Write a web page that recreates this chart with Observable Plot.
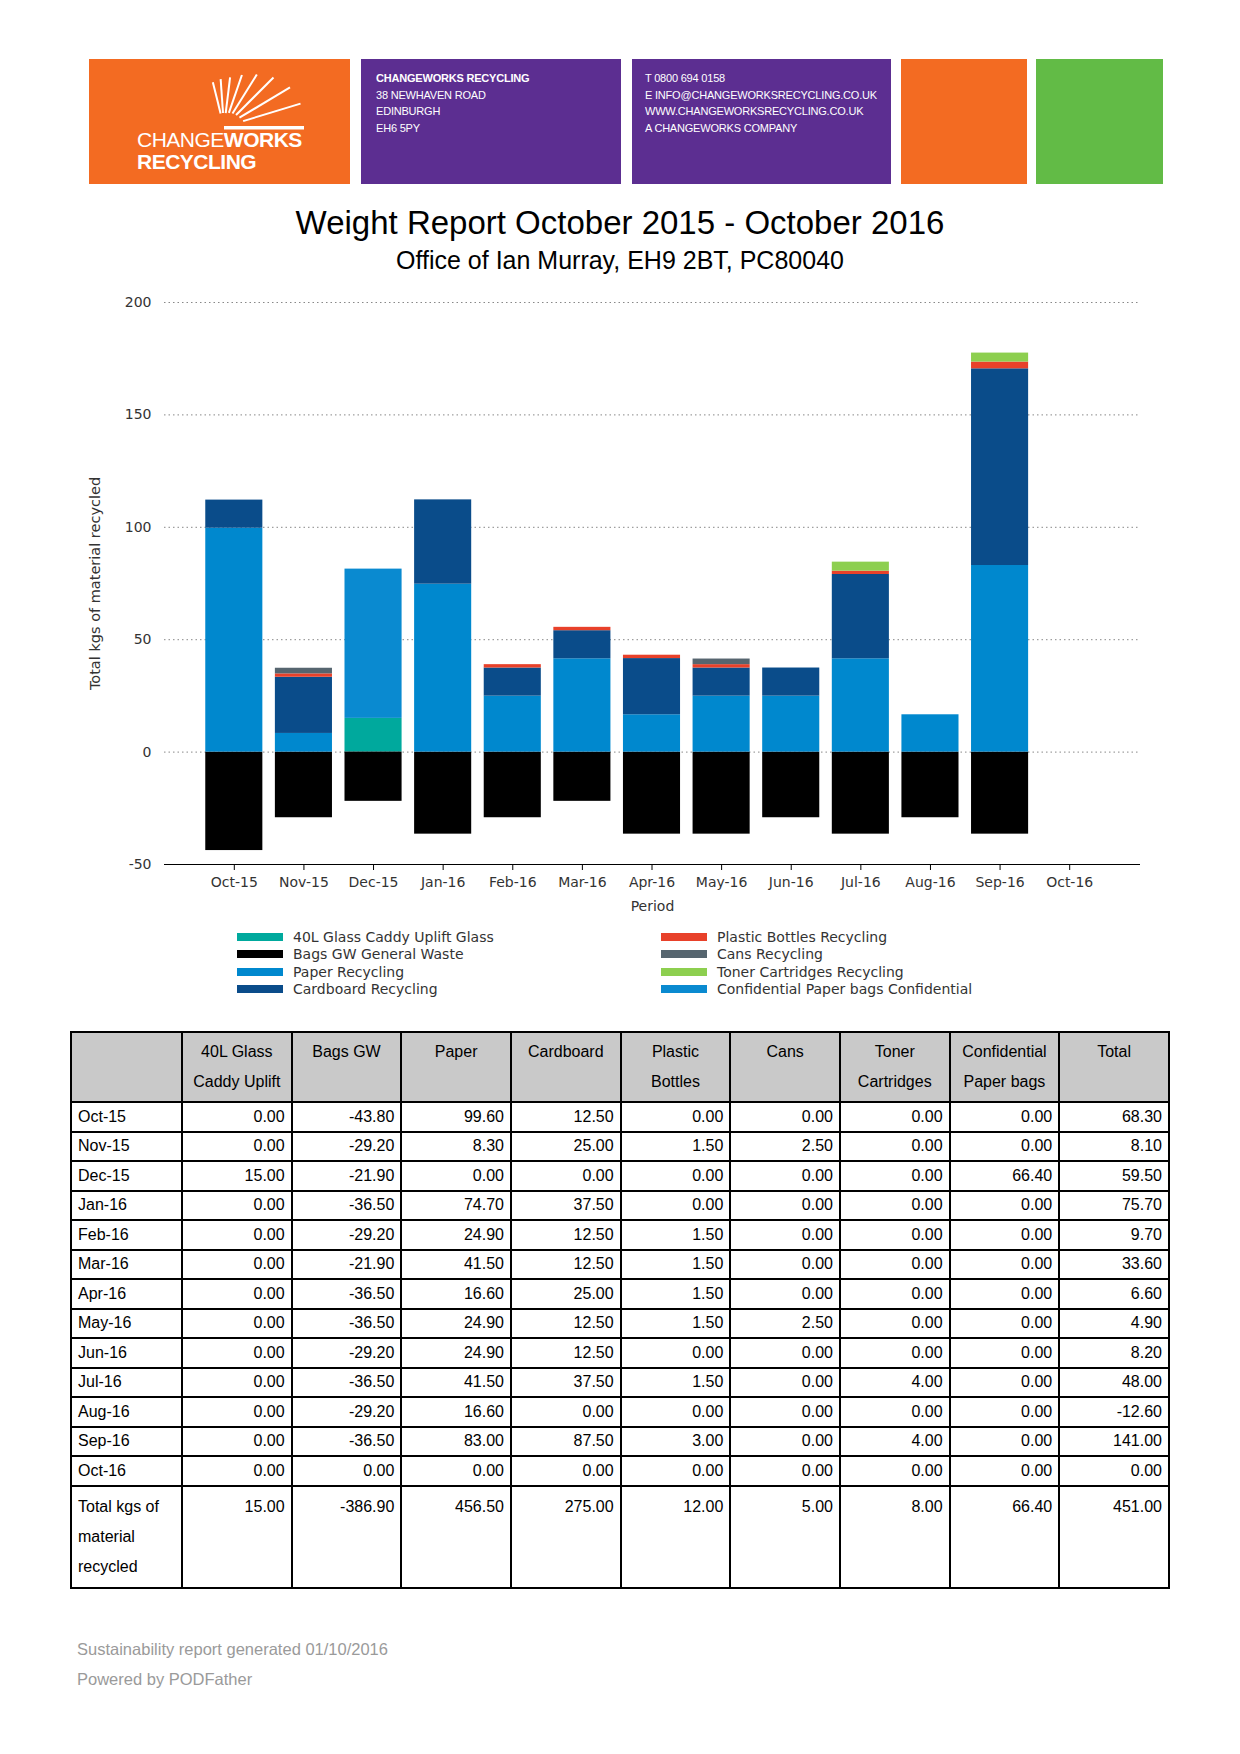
<!DOCTYPE html>
<html><head><meta charset="utf-8">
<script src="https://cdn.jsdelivr.net/npm/d3@7"></script>
<script src="https://cdn.jsdelivr.net/npm/@observablehq/plot@0.6"></script>
<style>
body{margin:0;width:1240px;height:1754px;position:relative;background:#fff;font-family:"Liberation Sans",Arial,sans-serif;overflow:hidden}
.abs{position:absolute}
.box{position:absolute;top:59px;height:125px}
.htxt{position:absolute;color:#fff;font-size:11px;line-height:16.5px;font-family:"Liberation Sans",Arial,sans-serif;letter-spacing:-0.2px}
#title{position:absolute;left:0;width:1240px;text-align:center;top:204px;font-size:33px;color:#000}
#subtitle{position:absolute;left:0;width:1240px;text-align:center;top:246px;font-size:25px;color:#000}
#chart{position:absolute;left:0;top:280px}
.leg{position:absolute;font-family:"DejaVu Sans",sans-serif;font-size:14px;color:#333;white-space:nowrap;line-height:17.4px}
.leg .sw{display:inline-block;width:46px;height:8px;vertical-align:middle;margin-right:10px;position:relative;top:-1px}
table{position:absolute;left:70px;top:1031px;border-collapse:collapse;width:1100px;table-layout:fixed;font-size:16px;color:#000}
td,th{border:2px solid #000;padding:0}
th{background:#c9c9c9;font-weight:normal;vertical-align:top;text-align:center;line-height:30px;padding-top:4px;height:64px}
td{text-align:right;padding-right:6px;height:27.5px;line-height:20px}
td.lab{text-align:left;padding-left:6px;padding-right:0}
tr.tot td{vertical-align:top;line-height:30px;padding-top:5px;height:95px}
.foot{position:absolute;left:77px;font-size:16.5px;color:#9a9a9a}
</style></head><body>

<div class="box" style="left:89px;width:261px;background:#f36b22">
  <svg width="261" height="125" id="rays"></svg>
  <div class="abs" style="left:48px;top:70px;color:#fff;font-size:21px;line-height:22px;letter-spacing:-0.5px">CHANGE<b>WORKS</b><br><b>RECYCLING</b></div>
</div>
<div class="box" style="left:361px;width:260px;background:#5c2e91">
  <div class="htxt" style="left:15px;top:11px"><b>CHANGEWORKS RECYCLING</b><br>38 NEWHAVEN ROAD<br>EDINBURGH<br>EH6 5PY</div>
</div>
<div class="box" style="left:632px;width:259px;background:#5c2e91">
  <div class="htxt" style="left:13px;top:11px">T 0800 694 0158<br>E INFO@CHANGEWORKSRECYCLING.CO.UK<br>WWW.CHANGEWORKSRECYCLING.CO.UK<br>A CHANGEWORKS COMPANY</div>
</div>
<div class="box" style="left:901px;width:126px;background:#f36b22"></div>
<div class="box" style="left:1036px;width:127px;background:#62bb46"></div>

<div id="title">Weight Report October 2015 - October 2016</div>
<div id="subtitle">Office of Ian Murray, EH9 2BT, PC80040</div>
<div id="chart"></div>
<div id="legend"></div>
<table id="tbl"></table>
<div class="foot" style="top:1640px">Sustainability report generated 01/10/2016</div>
<div class="foot" style="top:1670px">Powered by PODFather</div>

<script>
const months = ["Oct-15","Nov-15","Dec-15","Jan-16","Feb-16","Mar-16","Apr-16","May-16","Jun-16","Jul-16","Aug-16","Sep-16","Oct-16"];
const seriesNames = ["40L Glass Caddy Uplift Glass","Bags GW General Waste","Paper Recycling","Cardboard Recycling","Plastic Bottles Recycling","Cans Recycling","Toner Cartridges Recycling","Confidential Paper bags Confidential"];
const seriesColors = ["#00a99d","#000000","#0088ce","#0a4c8a","#e8412a","#56656f","#8dcf4f","#0a8ad0"];
const glass        = [0,0,15,0,0,0,0,0,0,0,0,0,0];
const bagsGW       = [-43.8,-29.2,-21.9,-36.5,-29.2,-21.9,-36.5,-36.5,-29.2,-36.5,-29.2,-36.5,0];
const paper        = [99.6,8.3,0,74.7,24.9,41.5,16.6,24.9,24.9,41.5,16.6,83,0];
const cardboard    = [12.5,25,0,37.5,12.5,12.5,25,12.5,12.5,37.5,0,87.5,0];
const plastic      = [0,1.5,0,0,1.5,1.5,1.5,1.5,0,1.5,0,3,0];
const cans         = [0,2.5,0,0,0,0,0,2.5,0,0,0,0,0];
const toner        = [0,0,0,0,0,0,0,0,0,4,0,4,0];
const confidential = [0,0,66.4,0,0,0,0,0,0,0,0,0,0];
const totals       = [68.3,8.1,59.5,75.7,9.7,33.6,6.6,4.9,8.2,48,-12.6,141,0];
const columnTotals = [15,-386.9,456.5,275,12,5,8,66.4,451];
const yTicks = [-50,0,50,100,150,200];
const gridTicks = [0,50,100,150,200];
const tableHeaders = ["","40L Glass<br>Caddy Uplift","Bags GW","Paper","Cardboard","Plastic<br>Bottles","Cans","Toner<br>Cartridges","Confidential<br>Paper bags","Total"];
const totalLabel = "Total kgs of<br>material<br>recycled";

const seriesValues = [glass,bagsGW,paper,cardboard,plastic,cans,toner,confidential];
const data = months.flatMap((m,i)=>seriesNames.map((s,j)=>({month:m, series:s, value:seriesValues[j][i]})));

// logo rays
(function(){
  const svg = d3.select("#rays");
  const ox=135, oy=68;
  const rays=[[104,14,46],[94,14,48],[83,14,50],[71,15,55],[58,16,62],[45,17,70],[31,18,77],[17,20,80]];
  rays.forEach(([a,r0,r1])=>{
    const t=a*Math.PI/180;
    svg.append("line").attr("x1",ox+r0*Math.cos(t)).attr("y1",oy-r0*Math.sin(t))
      .attr("x2",ox+r1*Math.cos(t)).attr("y2",oy-r1*Math.sin(t))
      .attr("stroke","#fff").attr("stroke-width",2);
  });
  svg.append("rect").attr("x",ox).attr("y",oy-1).attr("width",80).attr("height",3.5).attr("fill","#fff");
})();

const chart = Plot.plot({
  width:1240, height:640,
  marginLeft:164, marginRight:100, marginTop:22, marginBottom:56,
  style:{fontFamily:"DejaVu Sans, sans-serif", fontSize:"14px", color:"#333", background:"transparent"},
  x:{type:"band", domain:months, paddingInner:0.18, paddingOuter:0.09, insetLeft:35, insetRight:36, round:false},
  y:{domain:[-50,200]},
  color:{domain:seriesNames, range:seriesColors},
  marks:[
    Plot.ruleY(gridTicks,{stroke:"#888", strokeWidth:1, strokeDasharray:"1.5,3"}),
    Plot.barY(data, Plot.stackY({x:"month", y:"value", fill:"series"})),
    Plot.ruleY([-50],{stroke:"#000", strokeWidth:1.2}),
    Plot.axisX({ticks:months, tickSize:6, tickPadding:7, label:null, fontSize:14, stroke:"#000"}),
    Plot.axisY({ticks:yTicks, tickSize:0, tickPadding:13, label:null, fontSize:14, tickFormat:d=>String(d)}),
    Plot.text(["Period"],{frameAnchor:"bottom", dy:46, fontSize:14, fill:"#333"}),
    Plot.text(["Total kgs of material recycled"],{frameAnchor:"left", dx:-69, rotate:-90, textAnchor:"middle", fontSize:14.5, fill:"#333"})
  ]
});
document.getElementById("chart").appendChild(chart);

// legend
const leg = document.getElementById("legend");
seriesNames.forEach((s,i)=>{
  const col = i<4 ? 0 : 1;
  const row = i%4;
  const d = document.createElement("div");
  d.className="leg";
  d.style.left = (col? 661 : 237)+"px";
  d.style.top = (929 + row*17.4)+"px";
  d.innerHTML = `<span class="sw" style="background:${seriesColors[i]}"></span>${s}`;
  leg.appendChild(d);
});

// table
const tbl = document.getElementById("tbl");
let html = "<colgroup><col style='width:111px'>" + Array(9).fill("<col>").join("") + "</colgroup>";
html += "<tr>" + tableHeaders.map(h=>`<th>${h}</th>`).join("") + "</tr>";
months.forEach((m,i)=>{
  html += `<tr><td class="lab">${m}</td>` + seriesValues.map(v=>`<td>${v[i].toFixed(2)}</td>`).join("") + `<td>${totals[i].toFixed(2)}</td></tr>`;
});
html += `<tr class="tot"><td class="lab">${totalLabel}</td>` + columnTotals.map(v=>`<td>${v.toFixed(2)}</td>`).join("") + "</tr>";
tbl.innerHTML = html;
</script>
</body></html>
